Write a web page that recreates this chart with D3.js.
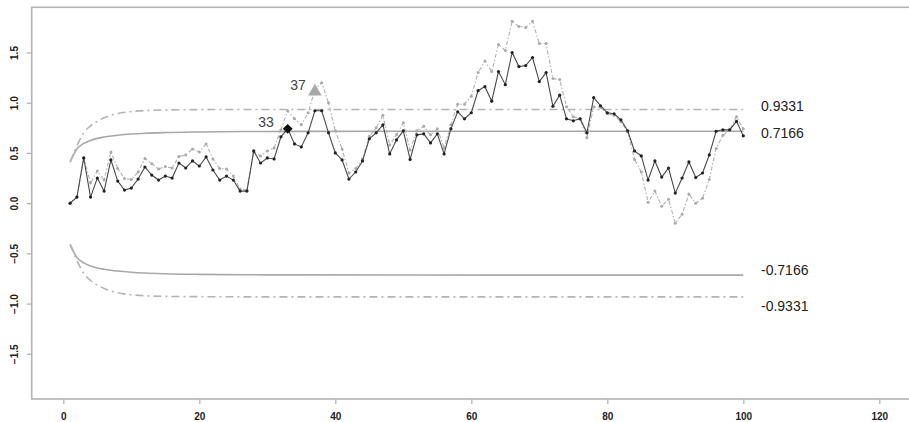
<!DOCTYPE html>
<html><head><meta charset="utf-8">
<script src="https://cdn.jsdelivr.net/npm/d3@7"></script>
<style>body{margin:0;background:#fff}svg{display:block}</style>
</head><body><svg id="c" width="909" height="422"></svg>
<script>
// sample index 1..100
const samples = d3.range(1, 101);
// solid black series
const seriesA = [0.00,0.06,0.45,0.06,0.25,0.12,0.43,0.22,0.13,0.15,
0.24,0.36,0.28,0.23,0.27,0.25,0.40,0.35,0.42,0.37,
0.46,0.33,0.23,0.27,0.23,0.12,0.12,0.52,0.40,0.45,
0.44,0.66,0.74,0.59,0.56,0.70,0.92,0.92,0.70,0.50,
0.43,0.24,0.31,0.42,0.64,0.70,0.78,0.49,0.63,0.72,
0.435,0.68,0.69,0.60,0.69,0.49,0.74,0.91,0.84,0.90,
1.12,1.16,1.015,1.31,1.18,1.50,1.36,1.37,1.45,1.21,
1.30,0.965,1.075,0.84,0.82,0.84,0.70,1.05,0.97,0.90,
0.89,0.83,0.72,0.52,0.47,0.23,0.42,0.26,0.35,0.10,
0.25,0.41,0.255,0.30,0.48,0.715,0.73,0.73,0.815,0.67];
// grey dash-dot series
const seriesB = [0.00,0.06,0.45,0.20,0.32,0.23,0.51,0.345,0.245,0.235,
0.31,0.445,0.395,0.34,0.365,0.35,0.465,0.48,0.54,0.51,
0.59,0.44,0.345,0.34,0.27,0.14,0.13,0.51,0.47,0.52,
0.55,0.73,0.92,0.84,0.78,0.90,1.13,1.20,1.00,0.72,
0.54,0.30,0.345,0.44,0.665,0.75,0.875,0.58,0.68,0.80,
0.53,0.72,0.765,0.68,0.74,0.55,0.78,0.985,0.985,1.065,
1.30,1.415,1.31,1.58,1.52,1.81,1.76,1.75,1.81,1.59,
1.59,1.24,1.23,0.96,0.86,0.84,0.65,0.96,0.955,0.89,
0.875,0.81,0.71,0.435,0.31,0.01,0.12,-0.03,0.04,-0.20,
-0.11,0.09,0.00,0.05,0.235,0.545,0.675,0.73,0.86,0.74];
// control limits read at selected samples
const limitX      = [1, 2, 3, 4, 5, 6, 7, 8, 10, 12, 15, 20, 30, 50, 100];
const upperSolid  = [0.41,0.54,0.595,0.625,0.645,0.658,0.668,0.676,0.688,0.696,0.703,0.709,0.714,0.716,0.7166];
const lowerSolid  = [-0.41,-0.54,-0.595,-0.625,-0.645,-0.658,-0.668,-0.676,-0.688,-0.696,-0.703,-0.709,-0.714,-0.716,-0.7166];
const upperDash   = [0.41,0.57,0.70,0.77,0.815,0.85,0.875,0.893,0.912,0.922,0.928,0.931,0.933,0.9331,0.9331];
const lowerDash   = [-0.41,-0.57,-0.70,-0.77,-0.815,-0.85,-0.875,-0.893,-0.912,-0.922,-0.928,-0.931,-0.933,-0.9331,-0.9331];
const limitLabels = ["0.9331","0.7166","-0.7166","-0.9331"];
const limitLabelValues = [0.9331,0.7166,-0.7166,-0.9331];
const xTicks = [0,20,40,60,80,100,120];
const yTicks = [-1.5,-1.0,-0.5,0.0,0.5,1.0,1.5];
const markA = {i:33, label:"33"};
const markB = {i:37, label:"37"};

const svg = d3.select("#c");
const x = d3.scaleLinear().domain([-4.65,124.8]).range([31.7, 63.3+124.8*6.8]);
const y = d3.scaleLinear().domain([-1.95,1.95]).range([399,7.3]);
const boxCol = "#b4b4b4";
const font = "Liberation Sans, Arial, sans-serif";

// box
svg.append("rect").attr("x",x(-4.65)).attr("y",y(1.95)).attr("width",x(124.8)-x(-4.65)).attr("height",y(-1.95)-y(1.95))
  .attr("fill","none").attr("stroke",boxCol).attr("stroke-width",1.6);

// axes
const xa = svg.append("g").attr("transform",`translate(0,${y(-1.95)})`)
  .call(d3.axisBottom(x).tickValues(xTicks).tickFormat(d3.format("d")).tickSize(5).tickPadding(9));
xa.select(".domain").remove();
const ya = svg.append("g").attr("transform",`translate(${x(-4.65)},0)`)
  .call(d3.axisLeft(y).tickValues(yTicks).tickFormat(d3.format(".1f")).tickSize(5).tickPadding(0));
ya.select(".domain").remove();
svg.selectAll(".tick line").attr("stroke",boxCol).attr("stroke-width",1.3);
svg.selectAll(".tick text").attr("fill","#222").style("font-family",font)
  .style("font-size","10px").style("font-weight","bold");
ya.selectAll(".tick text").attr("text-anchor","middle").attr("x",null).attr("dy",null)
  .attr("transform","translate(-16,0) rotate(-90)").attr("dominant-baseline","middle");

// limits
const lim = arr => d3.line().x((d,i)=>x(limitX[i])).y(d=>y(d)).curve(d3.curveMonotoneX)(arr);
[upperSolid,lowerSolid].forEach(a=>svg.append("path").attr("d",lim(a)).attr("fill","none")
  .attr("stroke","#a8a8a8").attr("stroke-width",1.6));
[upperDash,lowerDash].forEach(a=>svg.append("path").attr("d",lim(a)).attr("fill","none")
  .attr("stroke","#b4b4b4").attr("stroke-width",1.6).attr("stroke-dasharray","8,4,2,4"));

// series B (grey)
const line = d3.line().x((d,i)=>x(samples[i])).y(d=>y(d));
svg.append("path").attr("d",line(seriesB)).attr("fill","none").attr("stroke","#b0b0b0")
  .attr("stroke-width",1.1).attr("stroke-dasharray","4,2,1.5,2");
svg.append("g").selectAll("circle").data(seriesB).join("circle")
  .attr("cx",(d,i)=>x(samples[i])).attr("cy",d=>y(d)).attr("r",1.5).attr("fill","#aaa");

// series A (black)
svg.append("path").attr("d",line(seriesA)).attr("fill","none").attr("stroke","#4a4a4a").attr("stroke-width",1.1);
svg.append("g").selectAll("circle").data(seriesA).join("circle")
  .attr("cx",(d,i)=>x(samples[i])).attr("cy",d=>y(d)).attr("r",1.6).attr("fill","#222");

// markers
const ax = x(markA.i), ay = y(seriesA[markA.i-1]);
svg.append("path").attr("d",d3.symbol(d3.symbolSquare,48)())
  .attr("transform",`translate(${ax},${ay}) rotate(45)`).attr("fill","#111");
svg.append("text").attr("x",ax-14).attr("y",ay-2).attr("text-anchor","end").text(markA.label)
  .attr("fill","#444").style("font-family",font).style("font-size","14px");
const bx = x(markB.i), by = y(seriesB[markB.i-1]);
svg.append("path").attr("d",d3.symbol(d3.symbolTriangle,80)()).attr("transform",`translate(${bx},${by+2})`).attr("fill","#a8a8a8");
svg.append("text").attr("x",bx-9).attr("y",by).attr("text-anchor","end").text(markB.label)
  .attr("fill","#444").style("font-family",font).style("font-size","14px");

// limit labels
const labelShift = [-2, 3, -4, 10];
svg.append("g").selectAll("text").data(limitLabelValues).join("text")
  .attr("x",761).attr("y",(d,i)=>y(d) + labelShift[i]).attr("dominant-baseline","middle")
  .text((d,i)=>limitLabels[i]).attr("fill","#222")
  .style("font-family",font).style("font-size","14px");
</script></body></html>
